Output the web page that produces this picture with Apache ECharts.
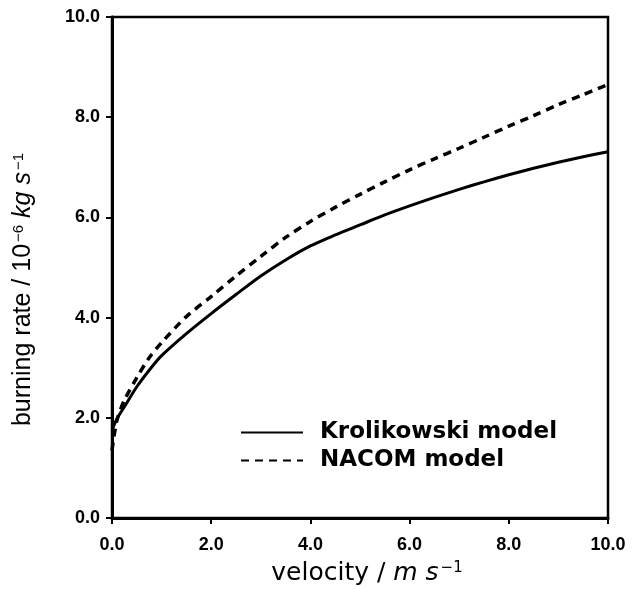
<!DOCTYPE html>
<html>
<head>
<meta charset="utf-8">
<script src="https://cdn.jsdelivr.net/npm/echarts@6/dist/echarts.min.js"></script>
<style>html,body{margin:0;padding:0;background:#fff;}#c{width:633px;height:589px;}</style>
</head>
<body>
<div id="c"></div>
<script>
const velocity = [0, 0.1, 0.25, 0.5, 0.75, 1, 1.5, 2, 2.5, 3, 3.5, 4, 4.5, 5, 5.5, 6, 6.5, 7, 7.5, 8, 8.5, 9, 9.5, 10];
const krolikowski = [1.75, 1.98, 2.22, 2.62, 2.95, 3.24, 3.68, 4.08, 4.46, 4.83, 5.15, 5.43, 5.65, 5.85, 6.05, 6.23, 6.4, 6.56, 6.71, 6.85, 6.98, 7.1, 7.21, 7.31];
const nacom = [1.35, 1.95, 2.35, 2.8, 3.2, 3.5, 4.02, 4.42, 4.83, 5.22, 5.6, 5.92, 6.2, 6.46, 6.71, 6.95, 7.17, 7.38, 7.6, 7.82, 8.03, 8.25, 8.45, 8.65];
const seriesNames = ['Krolikowski model', 'NACOM model'];
const xTicks = [0, 2, 4, 6, 8, 10];
const yTicks = [0, 2, 4, 6, 8, 10];

const chart = echarts.init(document.getElementById('c'));
const pair = (xs, ys) => xs.map((x, i) => [x, ys[i]]);
const tickFont = {color: '#000', fontFamily: 'Liberation Sans', fontWeight: 'bold', fontSize: 18};
chart.setOption({
  animation: false,
  backgroundColor: '#fff',
  grid: {left: 112, right: 25, top: 17, bottom: 71, show: true, borderColor: '#000', borderWidth: 2.5,
         containLabel: false, outerBoundsMode: 'none'},
  legend: {
    orient: 'vertical', left: 235, top: 416, itemGap: 5, itemWidth: 62, itemHeight: 14,
    data: seriesNames,
    itemStyle: {opacity: 0},
    textStyle: {color: '#000', fontFamily: 'DejaVu Sans', fontWeight: 'bold', fontSize: 23, padding: [0, 0, 0, 12]}
  },
  xAxis: {
    type: 'value', min: 0, max: 10, interval: 2,
    axisLine: {lineStyle: {color: '#000', width: 3}},
    axisTick: {show: true, length: 6, lineStyle: {color: '#000', width: 2}},
    splitLine: {show: false},
    axisLabel: Object.assign({margin: 18, formatter: v => xTicks.includes(v) ? v.toFixed(1) : ''}, tickFont),
    name: '{a|velocity / }{i|m s}{s|−1}',
    nameLocation: 'middle', nameGap: 43,
    nameTextStyle: {
      padding: [0, 0, 0, 14],
      rich: {
        a: {fontFamily: 'DejaVu Sans', fontSize: 25, color: '#000'},
        i: {fontFamily: 'DejaVu Sans', fontStyle: 'italic', fontSize: 25, color: '#000'},
        s: {fontFamily: 'DejaVu Sans', fontSize: 15, color: '#000', padding: [0, 0, 10, 2]}
      }
    }
  },
  yAxis: {
    type: 'value', min: 0, max: 10, interval: 2,
    axisLine: {lineStyle: {color: '#000', width: 3}},
    axisTick: {show: true, length: 6, lineStyle: {color: '#000', width: 2}},
    splitLine: {show: false},
    axisLabel: Object.assign({margin: 12, formatter: v => yTicks.includes(v) ? v.toFixed(1) : ''}, tickFont),
    name: '{a|burning rate / 10}{s|−6}{i| kg s}{s|−1}',
    nameLocation: 'middle', nameGap: 76, nameRotate: 90,
    nameTextStyle: {
      padding: [0, 44, 0, 0],
      rich: {
        a: {fontFamily: 'Liberation Sans', fontSize: 25, color: '#000'},
        i: {fontFamily: 'Liberation Sans', fontStyle: 'italic', fontSize: 25, color: '#000'},
        s: {fontFamily: 'Liberation Sans', fontSize: 15, color: '#000', padding: [0, 0, 10, 2]}
      }
    }
  },
  series: [
    {name: seriesNames[0], type: 'line', data: pair(velocity, krolikowski), smooth: 0.3, showSymbol: false, symbol: 'none',
     lineStyle: {color: '#000', width: 3, type: 'solid'}, itemStyle: {color: '#000'}},
    {name: seriesNames[1], type: 'line', data: pair(velocity, nacom), smooth: 0.3, showSymbol: false, symbol: 'none',
     lineStyle: {color: '#000', width: 3.5, type: [8, 6]}, itemStyle: {color: '#000'}}
  ]
});
</script>
</body>
</html>
